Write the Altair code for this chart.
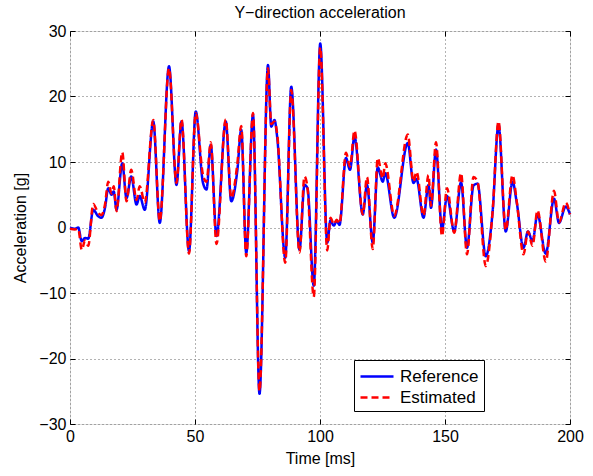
import altair as alt
import pandas as pd

# time [ms], reference and estimated acceleration [g] (peaks/troughs)
t = [0, 2, 3.3, 4.7, 6.0, 7.3, 9.3, 11.3, 12.6, 14.0, 15.3, 16.6, 17.5, 18.6, 20.9, 22.6,
     24.5, 26.6, 27.9, 29.9, 33.3, 35.9, 39.6, 42.6, 44.6, 47.6, 50.3, 53.2, 54.6, 56.3,
     58.6, 62.3, 64.5, 66.9, 68.5, 70.5, 73.2, 75.8, 79.2, 80.5, 81.8, 82.9, 86.1, 88.5,
     91.8, 93.8, 95.0, 97.5, 100.1, 102.9, 104.2, 105.5, 106.7, 107.8, 110.4, 112.0, 113.8,
     117.1, 118.8, 121.1, 123.1, 125.1, 126.1, 129.7, 135.1, 137.4, 138.6, 141.4, 143.4,
     144.4, 146.4, 148.8, 150.8, 153.7, 156.4, 158.8, 161.4, 163.0, 166.3, 169.0, 171.4,
     174.3, 177.0, 178.7, 181.4, 183.2, 185.0, 187.0, 190.3, 193.6, 195.6, 198.3, 200]
ref = [0, -0.2, 0.0, -2.1, -1.6, -1.7, 2.7, 1.7, 1.5, 3.0, 6.0, 5.0, 5.5, 2.7, 9.8, 4.5,
       7.8, 3.5, 4.8, 2.7, 16.2, 0.7, 24.6, 6.5, 16.2, -3.6, 17.7, 6.8, 5.8, 12.6,
       -1.3, 16.2, 4.0, 8.6, 14.9, -3.9, 17.2, -25.4, 24.8, 15.4, 16.4, 13.7, -4.6, 21.5,
       -3.4, 6.5, 6.0, -8.9, 28.1, -2.3, 1.1, 0.3, 1.0, 0.4, 10.6, 8.8, 13.9,
       2.0, 6.5, -2.3, 9.2, 7.0, 8.3, 1.5, 12.9, 6.8, 7.4, 1.5, 6.5,
       3.0, 11.9, -0.3, 4.8, -0.6, 6.9, -3.1, 6.4, 6.7, -4.4, 2.2, 15.7,
       -0.6, 7.0, 3.8, -3.1, -0.6, -2.1, 2.0, -4.0, 4.4, 0.7, 3.2, 2.0]
est = [-0.2, -0.3, -0.2, -3.4, -2.0, -2.8, 3.6, 2.2, 1.9, 3.5, 7.0, 5.2, 6.3, 2.5, 11.5, 4.0,
       8.8, 4.2, 6.3, 3.8, 16.4, 1.0, 24.3, 6.8, 16.5, -4.0, 17.5, 8.0, 7.0, 13.0,
       -2.5, 16.5, 4.5, 9.6, 15.5, -4.4, 17.5, -25.0, 24.3, 15.8, 16.2, 14.2, -5.4, 21.0,
       -3.8, 7.8, 6.0, -10.6, 27.5, -3.5, 1.5, 0.5, 1.2, 0.6, 11.4, 9.3, 14.8,
       2.0, 7.7, -3.3, 10.6, 7.5, 9.8, 1.8, 14.2, 7.0, 8.5, 1.8, 8.0,
       3.3, 13.0, -1.3, 6.0, -0.8, 8.3, -4.1, 7.7, 7.0, -5.9, 2.2, 16.2,
       -0.4, 8.0, 4.0, -4.1, -0.6, -2.8, 2.6, -5.2, 5.6, 0.8, 3.8, 2.0]

series = ["Reference", "Estimated"]
x_ticks = [0, 50, 100, 150, 200]
y_ticks = [-30, -20, -10, 0, 10, 20, 30]

df = pd.DataFrame({
    "t": t + t,
    "v": ref + est,
    "s": [series[0]] * len(t) + [series[1]] * len(t),
})

FONT = "Liberation Sans"

xs = alt.Scale(domain=[0, 200], nice=False, zero=False)
ys = alt.Scale(domain=[-30, 30], nice=False, zero=False)

legend_opts = dict(orient="none", legendX=284, legendY=329, title=None,
                   strokeColor="black", fillColor="white", padding=5,
                   labelFontSize=17, labelFont=FONT, labelColor="black",
                   symbolType="M-1,0H2.3", symbolSize=400, symbolStrokeWidth=2.5,
                   symbolFillColor="transparent",
                   rowPadding=1, labelOffset=18)

main = alt.Chart(df).mark_line(strokeWidth=2.5, interpolate="monotone").encode(
    x=alt.X("t:Q", scale=xs, axis=alt.Axis(
        values=x_ticks, offset=-5, tickSize=5, domain=False, grid=True, labelFlush=False,
        gridDash=[1, 3], gridColor="#666", gridOpacity=1, tickColor="black",
        labelFontSize=16, labelPadding=4, labelColor="black", labelFont=FONT,
        title="Time [ms]", titleFontSize=16, titleFontWeight="normal",
        titleFont=FONT, titleColor="black", titlePadding=6)),
    y=alt.Y("v:Q", scale=ys, axis=alt.Axis(
        values=y_ticks, offset=-5, tickSize=5, domain=False, grid=True,
        gridDash=[1, 3], gridColor="#666", gridOpacity=1, tickColor="black",
        labelFontSize=16, labelPadding=4, labelColor="black", labelFont=FONT,
        title="Acceleration [g]", titleFontSize=16, titleFontWeight="normal",
        titleFont=FONT, titleColor="black", titlePadding=10)),
    color=alt.Color("s:N", scale=alt.Scale(domain=series, range=["#0000ff", "#ff0000"]),
                    legend=alt.Legend(**legend_opts)),
    strokeDash=alt.StrokeDash("s:N", scale=alt.Scale(domain=series, range=[[1, 0], [7, 4]]),
                              legend=alt.Legend(**legend_opts)),
)

frame = alt.Chart(df).mark_line(opacity=0).encode(
    x=alt.X("t:Q", scale=xs, axis=alt.Axis(
        orient="top", values=x_ticks, offset=-5, tickSize=5, domain=False, grid=False,
        labels=False, title=None, tickColor="black")),
    y=alt.Y("v:Q", scale=ys, axis=alt.Axis(
        orient="right", values=y_ticks, offset=-5, tickSize=5, domain=False, grid=False,
        labels=False, title=None, tickColor="black")),
)

chart = alt.layer(main, frame).resolve_axis(x="independent", y="independent").properties(
    width=500, height=393,
    autosize="none",
    padding={"left": 70, "top": 31, "right": 23, "bottom": 52},
    title=alt.Title("Y\u2212direction acceleration", fontSize=16, fontWeight="normal",
                    font=FONT, color="black", offset=2),
).configure_view(stroke="black", strokeWidth=1).configure(background="white")

chart.save("out.html", embed_options={"renderer": "svg", "actions": False})
